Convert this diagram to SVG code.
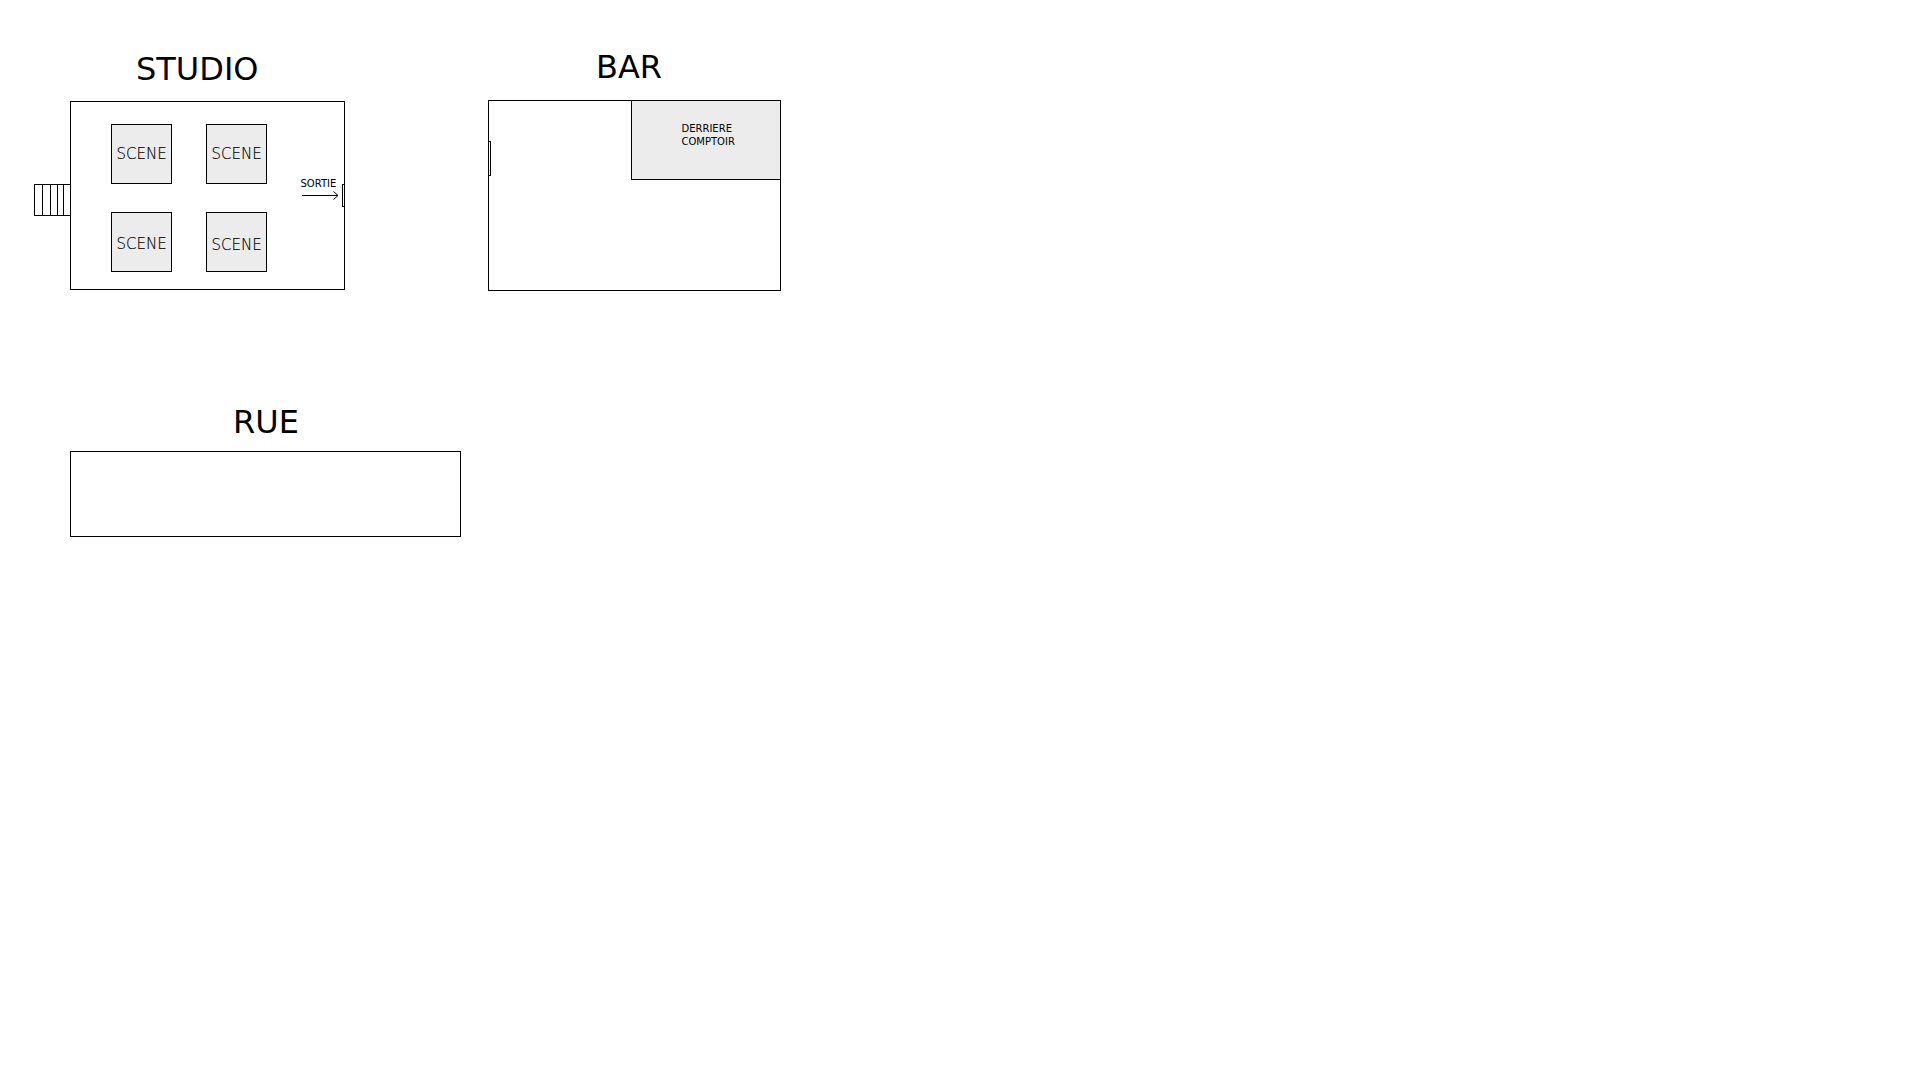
<svg xmlns="http://www.w3.org/2000/svg" width="1920" height="1080" viewBox="0 0 1920 1080">
<style>
.b{fill:#fff;stroke:#000;stroke-width:1;shape-rendering:crispEdges}
.g{fill:#ececec;stroke:#000;stroke-width:1;shape-rendering:crispEdges}
.l{fill:none;stroke:#000;stroke-width:1;shape-rendering:crispEdges}
text{font-family:"DejaVu Sans",sans-serif;fill:#000}
.t{font-size:32px}
.s{font-size:15px;font-weight:200;stroke:#000;stroke-width:.15}
.m{font-size:10px}
</style>
<rect width="1920" height="1080" fill="#fff"/>
<g id="studio">
<rect class="b" x="70.5" y="101.5" width="274" height="188"/>
<text class="t" x="136" y="80">STUDIO</text>
</g>
<g id="stairs">
<rect class="b" x="34.5" y="184.5" width="36" height="31"/>
<path class="l" d="M42.5 184.5V215.5M50.5 184.5V215.5M57.5 184.5V215.5M63.5 184.5V215.5"/>
</g>
<g id="scene1"><rect class="g" x="111.5" y="124.5" width="60" height="59"/><text class="s" x="116.5" y="159">SCENE</text></g>
<g id="scene2"><rect class="g" x="206.5" y="124.5" width="60" height="59"/><text class="s" x="211.5" y="159">SCENE</text></g>
<g id="scene3"><rect class="g" x="111.5" y="212.5" width="60" height="59"/><text class="s" x="116.5" y="248.5">SCENE</text></g>
<g id="scene4"><rect class="g" x="206.5" y="212.5" width="60" height="59"/><text class="s" x="211.5" y="250">SCENE</text></g>
<g id="sortie">
<rect class="b" x="342.5" y="184.5" width="2" height="22"/>
<text class="m" x="300.5" y="187">SORTIE</text>
</g>
<g id="bar">
<rect class="b" x="488.5" y="100.5" width="292" height="190"/>
<rect class="b" x="488.5" y="141.5" width="2" height="34"/>
<text class="t" x="596" y="78">BAR</text>
</g>
<g id="comptoir">
<rect class="g" x="631.5" y="100.5" width="149" height="79"/>
<text class="m" x="681.5" y="132">DERRIERE</text>
<text class="m" x="681.5" y="145">COMPTOIR</text>
</g>
<g id="rue">
<rect class="b" x="70.5" y="451.5" width="390" height="85"/>
<text class="t" x="233" y="433">RUE</text>
</g>
<g id="connectors">
<path class="l" d="M302 195.5H338"/>
<path d="M333.5 191.5L338 195.5L333.5 199.5" fill="none" stroke="#000"/>
</g>
</svg>
